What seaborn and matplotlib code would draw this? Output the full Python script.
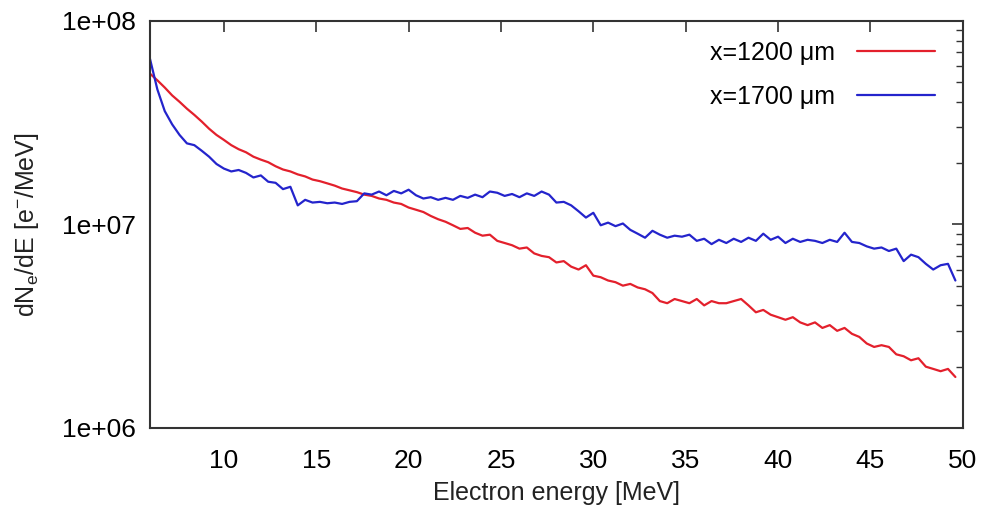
import numpy as np
import pandas as pd
import seaborn as sns
import matplotlib.pyplot as plt
from matplotlib.ticker import FixedLocator, LogLocator, NullFormatter, FuncFormatter

# energy bins [MeV]
energy = np.round(np.arange(6.0, 49.61, 0.4), 1)

# dN/dE in units of 1e6 e-/MeV
red_1200 = [55, 51, 47, 43, 40, 37, 34.5, 32, 29.5, 27.5,
            26, 24.5, 23.4, 22.6, 21.5, 20.8, 20.2, 19.3, 18.6, 18.2,
            17.6, 17.2, 16.6, 16.3, 15.9, 15.5, 15.0, 14.7, 14.4, 14.0,
            13.8, 13.4, 13.2, 12.8, 12.6, 12.1, 11.8, 11.5, 11.0, 10.6,
            10.3, 9.9, 9.5, 9.6, 9.1, 8.8, 8.9, 8.3, 8.1, 7.9,
            7.6, 7.7, 7.2, 7.0, 6.9, 6.5, 6.6, 6.2, 6.0, 6.3,
            5.6, 5.5, 5.3, 5.2, 5.0, 5.1, 4.9, 4.8, 4.6, 4.2,
            4.1, 4.3, 4.2, 4.1, 4.3, 4.0, 4.2, 4.1, 4.1, 4.2,
            4.3, 4.0, 3.7, 3.8, 3.6, 3.5, 3.4, 3.5, 3.3, 3.2,
            3.3, 3.1, 3.2, 3.0, 3.1, 2.9, 2.8, 2.6, 2.5, 2.55,
            2.5, 2.3, 2.25, 2.15, 2.2, 2.0, 1.95, 1.9, 1.95, 1.78]

blue_1700 = [65, 46, 36, 31, 27.5, 25, 24.5, 23, 21.5, 19.8,
             18.8, 18.2, 18.5, 17.9, 17.0, 17.4, 16.2, 16.0, 14.9, 15.3,
             12.4, 13.2, 12.8, 12.9, 12.7, 12.8, 12.6, 12.9, 13.0, 14.2,
             14.0, 14.5, 13.9, 14.6, 14.2, 14.8, 13.9, 13.4, 13.6, 13.2,
             13.5, 13.2, 13.8, 13.5, 14.0, 13.6, 14.5, 14.3, 13.8, 14.1,
             13.6, 14.2, 13.8, 14.5, 14.0, 12.8, 12.9, 12.4, 11.6, 10.8,
             11.4, 9.9, 10.2, 9.8, 10.1, 9.4, 9.0, 8.6, 9.3, 8.9,
             8.6, 8.8, 8.7, 8.9, 8.3, 8.5, 8.0, 8.4, 8.1, 8.5,
             8.2, 8.6, 8.3, 9.0, 8.4, 8.7, 8.1, 8.5, 8.2, 8.4,
             8.3, 8.1, 8.4, 8.2, 9.1, 8.2, 8.1, 7.8, 7.6, 7.7,
             7.4, 7.6, 6.6, 7.1, 6.9, 6.4, 6.0, 6.3, 6.4, 5.3]

labels = ["x=1200 μm", "x=1700 μm"]
colors = ["#e3202c", "#2424cc"]
x_ticks = [10, 15, 20, 25, 30, 35, 40, 45, 50]
y_ticks = [1e6, 1e7, 1e8]


def build_frame():
    rows = []
    for lab, vals in zip(labels, [red_1200, blue_1700]):
        rows.append(pd.DataFrame({"E": energy, "dNdE": np.array(vals) * 1e6, "run": lab}))
    return pd.concat(rows, ignore_index=True)


def plot_spectrum(df):
    sns.set_style("white")
    plt.rcParams["font.family"] = ["Liberation Sans", "DejaVu Sans"]
    plt.rcParams["text.color"] = "black"
    plt.rcParams["axes.labelcolor"] = "#222222"
    plt.rcParams["mathtext.fontset"] = "custom"
    plt.rcParams["mathtext.rm"] = "Liberation Sans"
    plt.rcParams["mathtext.it"] = "Liberation Sans"

    fig = plt.figure(figsize=(9.9, 5.2), dpi=100)
    ax = fig.add_axes([0.1515, 0.177, 0.821, 0.783])
    sns.lineplot(data=df, x="E", y="dNdE", hue="run", palette=colors,
                 estimator=None, linewidth=1.6, ax=ax)
    ax.set_yscale("log")
    ax.set_xlim(6, 50)
    ax.set_ylim(1e6, 1e8)

    ax.xaxis.set_major_locator(FixedLocator(x_ticks))
    ax.yaxis.set_major_locator(FixedLocator(y_ticks))
    ax.yaxis.set_minor_locator(LogLocator(base=10, subs=np.arange(2, 10)))
    ax.yaxis.set_minor_formatter(NullFormatter())
    ax.yaxis.set_major_formatter(FuncFormatter(lambda v, p: "1e+%02d" % round(np.log10(v))))
    ax.tick_params(axis="both", which="both", direction="in", top=True, right=True,
                   labelsize=19, colors="#333333", labelcolor="black")
    ax.tick_params(axis="x", which="major", pad=15)
    ax.tick_params(axis="y", which="major", pad=10)
    ax.tick_params(which="major", length=8, width=1.2)
    ax.tick_params(which="minor", length=5, width=1.0)
    for s in ax.spines.values():
        s.set_color("#333333")
        s.set_linewidth(1.5)

    ax.set_xlabel("Electron energy [MeV]", fontsize=18, labelpad=6)
    ax.set_ylabel(r"dN$_\mathregular{e}$/dE [e$^\mathregular{-}$/MeV]", fontsize=18, labelpad=15)

    handles, labs = ax.get_legend_handles_labels()
    ax.legend(handles, labs, loc="upper right", frameon=False, markerfirst=False,
              fontsize=18, handlelength=3.1, handletextpad=0.9, labelspacing=0.8,
              borderaxespad=0.4, bbox_to_anchor=(0.99, 1.0))
    plt.savefig("out.png", dpi=100)


plot_spectrum(build_frame())
